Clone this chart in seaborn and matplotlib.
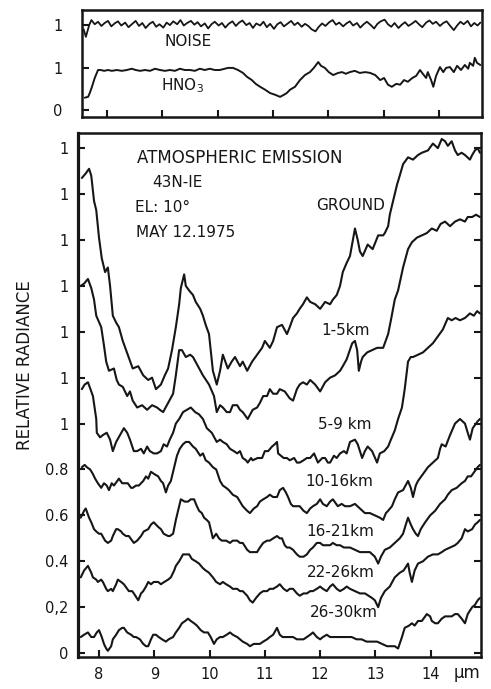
import matplotlib
matplotlib.use("Agg")
import matplotlib.pyplot as plt
import seaborn as sns

sns.set_style("ticks")
plt.rcParams['font.family'] = ['DejaVu Sans']

# --- data: wavelength (um) and relative radiance ---
wl_ticks = [8, 9, 10, 11, 12, 13, 14]
rad_ticks = [0, 0.2, 0.4, 0.6, 0.8, 1.0, 1.2, 1.4, 1.6, 1.8, 2.0, 2.2]
rad_labels = ['0', '0,2', '0.4', '0.6', '0.8', '1', '1', '1', '1', '1', '1', '1']

ground_x = [7.69, 7.76, 7.82, 7.86, 7.91, 7.95, 8.00, 8.05, 8.11, 8.16, 8.20, 8.25, 8.31, 8.36,
            8.43, 8.52, 8.61, 8.71, 8.80, 8.89, 8.96, 9.03, 9.12, 9.19, 9.25, 9.32, 9.39, 9.45,
            9.48, 9.54, 9.57, 9.63, 9.70, 9.75, 9.83, 9.88, 9.93, 9.99, 10.06, 10.13, 10.19,
            10.24, 10.33, 10.40, 10.46, 10.55, 10.60, 10.68, 10.77, 10.86, 10.95, 11.00, 11.09,
            11.15, 11.22, 11.31, 11.40, 11.45, 11.51, 11.58, 11.63, 11.69, 11.76, 11.82, 11.91,
            12.00, 12.09, 12.18, 12.23, 12.30, 12.36, 12.41, 12.48, 12.54, 12.63, 12.68, 12.72,
            12.77, 12.86, 12.95, 13.05, 13.14, 13.17, 13.23, 13.26, 13.32, 13.39, 13.44, 13.50,
            13.59, 13.68, 13.77, 13.84, 13.95, 14.04, 14.13, 14.20, 14.26, 14.31, 14.38, 14.44,
            14.49, 14.56, 14.62, 14.71, 14.75, 14.80, 14.85, 14.89]
ground_y = [2.07, 2.09, 2.11, 2.08, 1.97, 1.93, 1.81, 1.72, 1.66, 1.68, 1.60, 1.47, 1.44, 1.42,
            1.36, 1.30, 1.24, 1.25, 1.21, 1.19, 1.20, 1.15, 1.17, 1.21, 1.24, 1.32, 1.42, 1.52,
            1.59, 1.65, 1.60, 1.58, 1.56, 1.53, 1.50, 1.47, 1.43, 1.39, 1.23, 1.17, 1.23,
            1.30, 1.24, 1.27, 1.29, 1.25, 1.27, 1.23, 1.27, 1.30, 1.33, 1.36, 1.33,
            1.36, 1.42, 1.43, 1.39, 1.42, 1.46, 1.48, 1.50, 1.52, 1.55, 1.53, 1.52,
            1.50, 1.53, 1.52, 1.54, 1.56, 1.60, 1.66, 1.70, 1.73, 1.85, 1.80, 1.75,
            1.73, 1.78, 1.76, 1.82, 1.82, 1.83, 1.86, 1.91, 1.97, 2.04, 2.08, 2.13,
            2.16, 2.15, 2.17, 2.18, 2.19, 2.22, 2.20, 2.24, 2.23, 2.21, 2.23, 2.19,
            2.17, 2.18, 2.17, 2.15, 2.17, 2.19, 2.20, 2.18]

km1_5_x = [7.67, 7.73, 7.80, 7.86, 7.91, 7.95, 8.04, 8.09, 8.13, 8.18, 8.27, 8.32, 8.36, 8.43,
           8.51, 8.56, 8.61, 8.69, 8.78, 8.87, 8.96, 9.05, 9.10, 9.16, 9.25, 9.34, 9.39, 9.45,
           9.50, 9.57, 9.65, 9.70, 9.79, 9.88, 9.99, 10.08, 10.13, 10.19, 10.24, 10.31, 10.37,
           10.42, 10.50, 10.55, 10.60, 10.69, 10.78, 10.86, 10.91, 10.97, 11.04, 11.09, 11.15,
           11.22, 11.27, 11.36, 11.45, 11.51, 11.58, 11.63, 11.69, 11.76, 11.82, 11.91, 12.00,
           12.09, 12.18, 12.27, 12.36, 12.41, 12.48, 12.58, 12.63, 12.67, 12.70, 12.74, 12.77,
           12.85, 12.94, 13.03, 13.14, 13.23, 13.28, 13.35, 13.41, 13.50, 13.59, 13.66, 13.75,
           13.84, 13.93, 14.02, 14.11, 14.18, 14.26, 14.35, 14.44, 14.53, 14.62, 14.67, 14.75,
           14.82, 14.89]
km1_5_y = [1.60, 1.61, 1.63, 1.59, 1.54, 1.47, 1.42, 1.34, 1.27, 1.23, 1.24, 1.19, 1.17, 1.16,
           1.12, 1.14, 1.10, 1.07, 1.08, 1.06, 1.08, 1.07, 1.06, 1.05, 1.09, 1.13, 1.21, 1.32,
           1.32, 1.29, 1.30, 1.29, 1.25, 1.21, 1.17, 1.12, 1.05, 1.08, 1.07, 1.05, 1.05,
           1.08, 1.08, 1.06, 1.05, 1.02, 1.06, 1.07, 1.09, 1.12, 1.12, 1.15, 1.13,
           1.13, 1.15, 1.14, 1.11, 1.10, 1.15, 1.17, 1.18, 1.17, 1.19, 1.17, 1.14,
           1.18, 1.20, 1.21, 1.23, 1.25, 1.28, 1.35, 1.36, 1.32, 1.23, 1.27, 1.29,
           1.31, 1.32, 1.33, 1.33, 1.39, 1.45, 1.54, 1.58, 1.68, 1.76, 1.79, 1.81,
           1.82, 1.83, 1.85, 1.84, 1.87, 1.88, 1.86, 1.88, 1.89, 1.88, 1.90, 1.90,
           1.91, 1.90]

km5_9_x = [7.69, 7.74, 7.80, 7.86, 7.89, 7.95, 7.96, 8.02, 8.07, 8.14, 8.20, 8.25, 8.31, 8.38,
           8.45, 8.51, 8.56, 8.63, 8.69, 8.76, 8.81, 8.87, 8.92, 8.99, 9.05, 9.12, 9.17, 9.23,
           9.28, 9.34, 9.39, 9.45, 9.52, 9.59, 9.66, 9.74, 9.81, 9.88, 9.95, 10.04, 10.13,
           10.19, 10.24, 10.31, 10.37, 10.44, 10.50, 10.55, 10.60, 10.66, 10.69, 10.75, 10.78,
           10.87, 10.95, 11.00, 11.06, 11.13, 11.18, 11.22, 11.24, 11.29, 11.34, 11.40, 11.45,
           11.53, 11.58, 11.63, 11.70, 11.76, 11.82, 11.89, 11.96, 12.04, 12.09, 12.14, 12.18,
           12.25, 12.30, 12.36, 12.43, 12.48, 12.54, 12.63, 12.68, 12.76, 12.81, 12.86, 12.94,
           13.03, 13.08, 13.16, 13.23, 13.28, 13.35, 13.41, 13.48, 13.53, 13.59, 13.64, 13.68,
           13.77, 13.86, 13.95, 14.04, 14.13, 14.22, 14.31, 14.38, 14.45, 14.53, 14.62, 14.71,
           14.78, 14.84, 14.89]
km5_9_y = [1.15, 1.17, 1.18, 1.14, 1.12, 1.02, 0.96, 0.94, 0.95, 0.96, 0.93, 0.88, 0.92, 0.95,
           0.98, 0.96, 0.93, 0.88, 0.88, 0.89, 0.87, 0.90, 0.88, 0.87, 0.87, 0.88, 0.91, 0.90,
           0.93, 0.96, 1.00, 1.02, 1.05, 1.06, 1.07, 1.05, 1.04, 1.02, 0.98, 0.96, 0.92,
           0.93, 0.92, 0.91, 0.89, 0.88, 0.87, 0.88, 0.85, 0.84, 0.83, 0.85, 0.84,
           0.85, 0.85, 0.88, 0.88, 0.90, 0.91, 0.92, 0.87, 0.86, 0.85, 0.85, 0.84,
           0.85, 0.83, 0.83, 0.84, 0.85, 0.85, 0.87, 0.83, 0.85, 0.85, 0.83, 0.83,
           0.86, 0.85, 0.87, 0.88, 0.87, 0.92, 0.93, 0.91, 0.85, 0.88, 0.90, 0.88,
           0.83, 0.87, 0.88, 0.90, 0.93, 0.97, 1.02, 1.07, 1.15, 1.27, 1.29, 1.29,
           1.30, 1.31, 1.33, 1.35, 1.38, 1.41, 1.46, 1.45, 1.46, 1.45, 1.46, 1.48,
           1.47, 1.49, 1.48]

km10_16_x = [7.69, 7.74, 7.78, 7.84, 7.89, 7.93, 7.98, 8.04, 8.09, 8.14, 8.18, 8.23, 8.27, 8.33,
             8.36, 8.42, 8.47, 8.52, 8.58, 8.61, 8.67, 8.72, 8.80, 8.85, 8.89, 8.94, 9.00, 9.07,
             9.12, 9.16, 9.21, 9.25, 9.30, 9.36, 9.41, 9.46, 9.52, 9.57, 9.63, 9.70, 9.75, 9.83,
             9.88, 9.93, 9.99, 10.06, 10.12, 10.19, 10.24, 10.30, 10.35, 10.42, 10.50, 10.55,
             10.60, 10.68, 10.73, 10.80, 10.86, 10.91, 10.97, 11.04, 11.09, 11.15, 11.22, 11.27,
             11.33, 11.38, 11.42, 11.47, 11.51, 11.58, 11.63, 11.70, 11.76, 11.82, 11.87, 11.94,
             12.00, 12.05, 12.12, 12.18, 12.23, 12.29, 12.32, 12.39, 12.45, 12.54, 12.63, 12.72,
             12.81, 12.90, 12.99, 13.08, 13.14, 13.19, 13.23, 13.30, 13.35, 13.41, 13.50, 13.59,
             13.64, 13.68, 13.73, 13.77, 13.86, 13.95, 14.04, 14.13, 14.17, 14.20, 14.27, 14.35,
             14.44, 14.53, 14.62, 14.67, 14.71, 14.76, 14.85, 14.89]
km10_16_y = [0.81, 0.82, 0.81, 0.80, 0.78, 0.76, 0.74, 0.72, 0.74, 0.73, 0.71, 0.74, 0.73, 0.75,
             0.76, 0.74, 0.74, 0.74, 0.72, 0.72, 0.73, 0.73, 0.75, 0.77, 0.76, 0.79, 0.78, 0.77,
             0.75, 0.74, 0.70, 0.73, 0.75, 0.81, 0.86, 0.89, 0.91, 0.92, 0.92, 0.90, 0.89, 0.86,
             0.87, 0.84, 0.83, 0.81, 0.80, 0.75, 0.73, 0.72, 0.71, 0.69, 0.68, 0.66,
             0.64, 0.62, 0.61, 0.63, 0.64, 0.66, 0.67, 0.68, 0.69, 0.68, 0.68, 0.71,
             0.72, 0.70, 0.68, 0.65, 0.64, 0.64, 0.64, 0.62, 0.61, 0.63, 0.64, 0.65,
             0.67, 0.65, 0.64, 0.66, 0.67, 0.65, 0.64, 0.65, 0.64, 0.64, 0.65, 0.63,
             0.61, 0.61, 0.60, 0.59, 0.58, 0.61, 0.62, 0.64, 0.67, 0.70, 0.71, 0.75,
             0.72, 0.68, 0.73, 0.75, 0.78, 0.81, 0.83, 0.85, 0.89, 0.91, 0.90, 0.95,
             1.00, 1.02, 1.00, 0.96, 0.93, 0.98, 1.01, 1.02]

km16_21_x = [7.67, 7.73, 7.76, 7.82, 7.86, 7.91, 7.95, 8.00, 8.04, 8.11, 8.16, 8.22, 8.25, 8.31,
             8.34, 8.40, 8.43, 8.49, 8.54, 8.60, 8.63, 8.69, 8.76, 8.81, 8.89, 8.94, 8.99, 9.07,
             9.12, 9.17, 9.25, 9.28, 9.34, 9.39, 9.45, 9.48, 9.55, 9.61, 9.66, 9.72, 9.77, 9.81,
             9.86, 9.90, 9.95, 9.99, 10.06, 10.12, 10.17, 10.22, 10.30, 10.37, 10.42, 10.50,
             10.55, 10.60, 10.68, 10.73, 10.80, 10.86, 10.91, 10.97, 11.04, 11.09, 11.15, 11.22,
             11.27, 11.31, 11.36, 11.40, 11.45, 11.51, 11.58, 11.63, 11.70, 11.76, 11.82, 11.87,
             11.94, 12.00, 12.05, 12.12, 12.18, 12.23, 12.30, 12.36, 12.43, 12.48, 12.54, 12.63,
             12.72, 12.81, 12.90, 12.99, 13.05, 13.10, 13.17, 13.26, 13.35, 13.44, 13.50, 13.55,
             13.59, 13.64, 13.68, 13.73, 13.77, 13.82, 13.90, 13.99, 14.08, 14.17, 14.26, 14.31,
             14.38, 14.47, 14.56, 14.62, 14.67, 14.73, 14.76, 14.82, 14.85, 14.89]
km16_21_y = [0.59, 0.62, 0.63, 0.59, 0.57, 0.54, 0.53, 0.52, 0.52, 0.49, 0.48, 0.49, 0.51, 0.54,
             0.54, 0.53, 0.52, 0.51, 0.51, 0.49, 0.48, 0.49, 0.51, 0.53, 0.54, 0.56, 0.57, 0.55,
             0.54, 0.52, 0.51, 0.51, 0.52, 0.58, 0.64, 0.67, 0.66, 0.66, 0.67, 0.67, 0.64, 0.62,
             0.61, 0.59, 0.58, 0.57, 0.50, 0.52, 0.50, 0.49, 0.49, 0.48, 0.49, 0.49,
             0.48, 0.48, 0.45, 0.44, 0.44, 0.44, 0.46, 0.48, 0.49, 0.49, 0.50, 0.51,
             0.50, 0.50, 0.47, 0.46, 0.46, 0.45, 0.43, 0.42, 0.42, 0.43, 0.45, 0.46,
             0.48, 0.48, 0.47, 0.47, 0.47, 0.48, 0.47, 0.47, 0.46, 0.46, 0.46, 0.45,
             0.44, 0.44, 0.44, 0.42, 0.39, 0.42, 0.45, 0.46, 0.48, 0.50, 0.52, 0.56,
             0.59, 0.56, 0.54, 0.52, 0.51, 0.54, 0.57, 0.60, 0.62, 0.65, 0.67, 0.69,
             0.71, 0.72, 0.74, 0.75, 0.77, 0.77, 0.78, 0.80, 0.81, 0.82]

km22_26_x = [7.67, 7.73, 7.80, 7.86, 7.89, 7.95, 7.98, 8.04, 8.07, 8.13, 8.16, 8.22, 8.25, 8.31,
             8.34, 8.40, 8.45, 8.51, 8.54, 8.60, 8.63, 8.71, 8.76, 8.80, 8.85, 8.89, 8.94, 8.99,
             9.07, 9.12, 9.18, 9.25, 9.30, 9.36, 9.39, 9.45, 9.52, 9.57, 9.63, 9.68, 9.75, 9.81,
             9.88, 9.93, 9.99, 10.06, 10.12, 10.19, 10.24, 10.30, 10.37, 10.42, 10.50, 10.55,
             10.60, 10.68, 10.73, 10.78, 10.84, 10.91, 10.97, 11.04, 11.09, 11.15, 11.22, 11.27,
             11.34, 11.40, 11.45, 11.51, 11.58, 11.63, 11.70, 11.76, 11.82, 11.87, 11.94, 12.00,
             12.05, 12.12, 12.18, 12.23, 12.30, 12.36, 12.43, 12.48, 12.54, 12.63, 12.72, 12.81,
             12.94, 12.99, 13.05, 13.10, 13.17, 13.26, 13.35, 13.44, 13.51, 13.59, 13.62, 13.66,
             13.71, 13.77, 13.86, 13.95, 14.04, 14.13, 14.20, 14.26, 14.35, 14.44, 14.49, 14.56,
             14.62, 14.67, 14.75, 14.80, 14.85, 14.89]
km22_26_y = [0.33, 0.36, 0.38, 0.35, 0.33, 0.32, 0.31, 0.32, 0.31, 0.28, 0.27, 0.28, 0.27, 0.30,
             0.32, 0.31, 0.30, 0.28, 0.27, 0.27, 0.26, 0.23, 0.26, 0.27, 0.29, 0.31, 0.30, 0.31,
             0.31, 0.30, 0.31, 0.32, 0.33, 0.36, 0.38, 0.40, 0.43, 0.43, 0.43, 0.41, 0.40, 0.39,
             0.37, 0.36, 0.35, 0.33, 0.31, 0.30, 0.31, 0.30, 0.29, 0.28, 0.28, 0.27,
             0.27, 0.25, 0.23, 0.22, 0.24, 0.26, 0.27, 0.27, 0.28, 0.28, 0.29, 0.30,
             0.28, 0.27, 0.28, 0.28, 0.26, 0.25, 0.26, 0.26, 0.27, 0.27, 0.28, 0.29,
             0.28, 0.27, 0.29, 0.30, 0.28, 0.27, 0.28, 0.29, 0.28, 0.27, 0.26, 0.26,
             0.24, 0.23, 0.20, 0.24, 0.27, 0.29, 0.33, 0.35, 0.36, 0.39, 0.35, 0.31,
             0.36, 0.39, 0.40, 0.42, 0.43, 0.43, 0.44, 0.45, 0.46, 0.47, 0.48, 0.50,
             0.54, 0.53, 0.54, 0.56, 0.57, 0.58]

km26_30_x = [7.67, 7.73, 7.80, 7.86, 7.91, 7.96, 8.00, 8.05, 8.09, 8.13, 8.16, 8.22, 8.25, 8.31,
             8.36, 8.42, 8.45, 8.51, 8.58, 8.63, 8.67, 8.74, 8.80, 8.85, 8.89, 8.94, 8.98, 9.03,
             9.08, 9.14, 9.21, 9.26, 9.34, 9.39, 9.45, 9.50, 9.56, 9.61, 9.66, 9.72, 9.77, 9.84,
             9.90, 9.97, 10.02, 10.08, 10.13, 10.19, 10.24, 10.31, 10.37, 10.42, 10.50, 10.55,
             10.60, 10.68, 10.73, 10.80, 10.86, 10.91, 10.97, 11.04, 11.09, 11.15, 11.22, 11.27,
             11.32, 11.40, 11.45, 11.51, 11.58, 11.63, 11.70, 11.76, 11.82, 11.87, 11.94, 12.00,
             12.05, 12.12, 12.18, 12.23, 12.30, 12.36, 12.43, 12.48, 12.57, 12.66, 12.75, 12.84,
             12.94, 13.03, 13.12, 13.21, 13.30, 13.35, 13.41, 13.48, 13.53, 13.61, 13.66, 13.71,
             13.77, 13.84, 13.90, 13.93, 13.99, 14.02, 14.08, 14.13, 14.20, 14.26, 14.31, 14.38,
             14.44, 14.49, 14.56, 14.62, 14.67, 14.75, 14.80, 14.85, 14.89]
km26_30_y = [0.07, 0.08, 0.09, 0.07, 0.07, 0.09, 0.10, 0.07, 0.04, 0.02, 0.01, 0.03, 0.06, 0.08,
             0.10, 0.11, 0.11, 0.09, 0.08, 0.07, 0.07, 0.06, 0.04, 0.03, 0.03, 0.06, 0.08, 0.08,
             0.07, 0.06, 0.05, 0.06, 0.07, 0.09, 0.11, 0.13, 0.14, 0.15, 0.14, 0.13, 0.12, 0.10,
             0.09, 0.09, 0.07, 0.04, 0.06, 0.07, 0.07, 0.08, 0.09, 0.08, 0.07, 0.06,
             0.05, 0.04, 0.03, 0.04, 0.04, 0.04, 0.05, 0.06, 0.07, 0.08, 0.11, 0.08,
             0.07, 0.07, 0.07, 0.07, 0.06, 0.06, 0.06, 0.07, 0.08, 0.09, 0.07, 0.06,
             0.07, 0.08, 0.07, 0.07, 0.07, 0.07, 0.07, 0.07, 0.07, 0.06, 0.06, 0.05,
             0.05, 0.05, 0.04, 0.03, 0.03, 0.03, 0.02, 0.07, 0.11, 0.12, 0.13, 0.12,
             0.14, 0.14, 0.16, 0.17, 0.16, 0.14, 0.13, 0.13, 0.15, 0.16, 0.16, 0.16,
             0.17, 0.17, 0.15, 0.13, 0.17, 0.20, 0.21, 0.23, 0.24]

# top panel: detector noise and HNO3 transmission
noise_x = [7.58, 7.62, 7.68, 7.72, 7.78, 7.84, 7.90, 7.96, 8.02, 8.08, 8.14, 8.20, 8.26, 8.33,
           8.39, 8.45, 8.52, 8.58, 8.64, 8.70, 8.77, 8.83, 8.89, 8.95, 9.02, 9.08, 9.14, 9.20,
           9.27, 9.33, 9.39, 9.45, 9.52, 9.58, 9.64, 9.70, 9.77, 9.83, 9.89, 9.95, 10.02, 10.08,
           10.14, 10.20, 10.27, 10.33, 10.39, 10.45, 10.52, 10.58, 10.64, 10.70, 10.77, 10.83,
           10.89, 10.95, 11.02, 11.08, 11.14, 11.20, 11.27, 11.33, 11.39, 11.45, 11.52, 11.58,
           11.64, 11.70, 11.77, 11.83, 11.89, 11.95, 12.02, 12.08, 12.14, 12.20, 12.27, 12.33,
           12.39, 12.45, 12.52, 12.58, 12.64, 12.70, 12.77, 12.83, 12.89, 12.95, 13.02, 13.08,
           13.14, 13.20, 13.27, 13.33, 13.39, 13.45, 13.52, 13.58, 13.64, 13.70, 13.77, 13.83,
           13.89, 13.95, 14.02, 14.08, 14.14, 14.20, 14.27, 14.33, 14.39, 14.45, 14.52, 14.58,
           14.64, 14.70, 14.75]
noise_y = [0.90, 0.72, 1.00, 1.12, 1.02, 1.08, 0.98, 1.05, 1.10, 0.97, 1.04, 1.09, 0.99, 1.06,
           0.95, 1.02, 1.10, 0.98, 1.05, 0.93, 1.03, 1.08, 0.96, 1.02, 0.94, 1.06, 1.00, 1.09,
           1.02, 1.12, 0.99, 1.05, 1.10, 1.01, 1.07, 0.97, 1.04, 0.92, 1.02, 1.08, 0.99, 1.05,
           0.94, 1.03, 1.09, 0.98, 1.06, 1.11, 1.00, 1.05, 0.93, 1.04, 0.99, 1.08,
           0.95, 1.03, 0.91, 1.02, 1.07, 0.97, 1.04, 1.10, 1.00, 1.06, 0.96, 1.03,
           0.98, 0.90, 0.85, 0.96, 1.04, 0.98, 1.07, 1.12, 1.01, 1.06, 0.97, 1.04,
           1.09, 0.99, 1.05, 0.94, 1.02, 1.08, 1.00, 0.92, 1.03, 1.09, 1.13, 1.02,
           0.96, 1.05, 0.93, 1.01, 1.07, 0.98, 1.04, 1.10, 1.02, 0.95, 1.06, 1.11,
           1.03, 1.08, 0.98, 1.05, 1.09, 0.99, 0.88, 0.99, 1.08, 1.02, 1.10, 0.97,
           1.05, 0.99, 1.06]

hno3_x = [7.60, 7.66, 7.69, 7.73, 7.78, 7.84, 7.89, 7.95, 8.02, 8.09, 8.18, 8.27, 8.36, 8.45,
          8.52, 8.60, 8.69, 8.78, 8.87, 8.96, 9.05, 9.14, 9.23, 9.32, 9.41, 9.50, 9.59, 9.68,
          9.77, 9.86, 9.95, 10.04, 10.13, 10.19, 10.28, 10.37, 10.46, 10.53, 10.62, 10.69,
          10.77, 10.86, 10.95, 11.04, 11.13, 11.20, 11.25, 11.31, 11.40, 11.49, 11.58, 11.67,
          11.74, 11.82, 11.87, 11.94, 12.01, 12.09, 12.18, 12.25, 12.32, 12.39, 12.48, 12.57,
          12.67, 12.76, 12.85, 12.94, 13.01, 13.08, 13.15, 13.23, 13.30, 13.37, 13.44, 13.52,
          13.59, 13.66, 13.71, 13.77, 13.80, 13.86, 13.90, 13.95, 14.02, 14.08, 14.13, 14.20,
          14.27, 14.33, 14.40, 14.47, 14.53, 14.56, 14.62, 14.65, 14.69, 14.75]
hno3_y = [0.29, 0.31, 0.40, 0.55, 0.76, 0.95, 0.95, 0.93, 0.95, 0.93, 0.95, 0.93, 0.95, 0.98,
          0.95, 0.93, 0.95, 0.93, 0.98, 0.95, 0.93, 0.95, 0.93, 0.98, 0.95, 0.95, 0.93, 0.98,
          0.95, 0.98, 0.95, 0.95, 0.98, 1.00, 1.00, 0.95, 0.88, 0.79, 0.71, 0.62,
          0.55, 0.48, 0.40, 0.36, 0.31, 0.36, 0.40, 0.48, 0.55, 0.71, 0.83, 0.90,
          1.00, 1.14, 1.05, 1.00, 0.90, 0.83, 0.88, 0.90, 0.86, 0.90, 0.93, 0.88,
          0.90, 0.88, 0.83, 0.71, 0.76, 0.60, 0.55, 0.62, 0.60, 0.71, 0.67, 0.76,
          0.81, 0.95, 0.86, 0.76, 0.90, 0.71, 0.55, 0.81, 1.02, 0.90, 1.00, 1.02,
          0.90, 1.05, 0.95, 1.07, 0.98, 1.12, 1.05, 1.24, 1.12, 1.07]

curves = [
    ('GROUND', ground_x, ground_y),
    ('1-5km', km1_5_x, km1_5_y),
    ('5-9 km', km5_9_x, km5_9_y),
    ('10-16km', km10_16_x, km10_16_y),
    ('16-21km', km16_21_x, km16_21_y),
    ('22-26km', km22_26_x, km22_26_y),
    ('26-30km', km26_30_x, km26_30_y),
]
noise_offset = 1.02
ink = '#161616'

fig = plt.figure(figsize=(4.91, 6.89), dpi=100)
ax_top = fig.add_axes([82 / 491, 1 - 117 / 689, 400 / 491, 107 / 689])
ax = fig.add_axes([78 / 491, 1 - 657 / 689, 403 / 491, 524 / 689])

# --- top panel ---
sns.lineplot(x=noise_x, y=[v + noise_offset for v in noise_y], ax=ax_top, color=ink,
             linewidth=1.3, estimator=None, sort=False)
sns.lineplot(x=hno3_x, y=hno3_y, ax=ax_top, color=ink, linewidth=1.4, estimator=None, sort=False)
ax_top.set_xlim(7.55, 14.78)
ax_top.set_ylim(-0.17, 2.38)
ax_top.set_xticks(wl_ticks)
ax_top.set_xticklabels([])
ax_top.set_yticks([0, 1, 1 + noise_offset])
ax_top.set_yticklabels(['0', '1', '1'])
ax_top.tick_params(axis='both', direction='in', length=5, width=1.5, labelsize=10.5,
                   colors=ink, pad=14)
ax_top.text(0.265, 0.71, 'NOISE', transform=ax_top.transAxes, ha='center', va='center',
            fontsize=11, color=ink)
ax_top.text(0.25, 0.29, 'HNO$_3$', transform=ax_top.transAxes, ha='center', va='center',
            fontsize=11, color=ink)

# --- main panel ---
for name, x, y in curves:
    sns.lineplot(x=x, y=y, ax=ax, color=ink, linewidth=1.5, estimator=None, sort=False)

ax.set_xlim(7.62, 14.91)
ax.set_ylim(-0.017, 2.266)
ax.set_xticks(wl_ticks)
ax.set_xticklabels([str(t) for t in wl_ticks])
ax.set_yticks(rad_ticks)
ax.set_yticklabels(rad_labels)
ax.tick_params(axis='both', direction='in', length=5, width=1.5, labelsize=10.5,
               colors=ink, right=True, pad=7)
ax.set_xlabel('')
ax.set_ylabel('')

label_pos = {
    'GROUND': (0.677, 0.861),
    '1-5km': (0.663, 0.624),
    '5-9 km': (0.663, 0.443),
    '10-16km': (0.648, 0.334),
    '16-21km': (0.650, 0.239),
    '22-26km': (0.653, 0.162),
    '26-30km': (0.660, 0.084),
}
for name, (tx, ty) in label_pos.items():
    ax.text(tx, ty, name, transform=ax.transAxes, ha='center', va='center',
            fontsize=11, color=ink)

ax.text(0.402, 0.952, 'ATMOSPHERIC EMISSION', transform=ax.transAxes, ha='center',
        va='center', fontsize=12, color=ink)
ax.text(0.246, 0.906, '43N-IE', transform=ax.transAxes, ha='center', va='center',
        fontsize=11, color=ink)
ax.text(0.211, 0.857, 'EL: 10°', transform=ax.transAxes, ha='center', va='center',
        fontsize=11, color=ink)
ax.text(0.266, 0.811, 'MAY 12.1975', transform=ax.transAxes, ha='center', va='center',
        fontsize=11, color=ink)

for a in (ax, ax_top):
    for side in ['top', 'bottom', 'left', 'right']:
        a.spines[side].set_linewidth(1.8)
        a.spines[side].set_color(ink)
ax.spines['left'].set_linewidth(2.3)

fig.text(25 / 491, 1 - 365 / 689, 'RELATIVE RADIANCE', rotation=90, ha='center',
         va='center', fontsize=12, color=ink)
fig.text(467 / 491, 1 - 673 / 689, 'μm', ha='center', va='center', fontsize=12, color=ink)

fig.savefig('out.png', dpi=100)
